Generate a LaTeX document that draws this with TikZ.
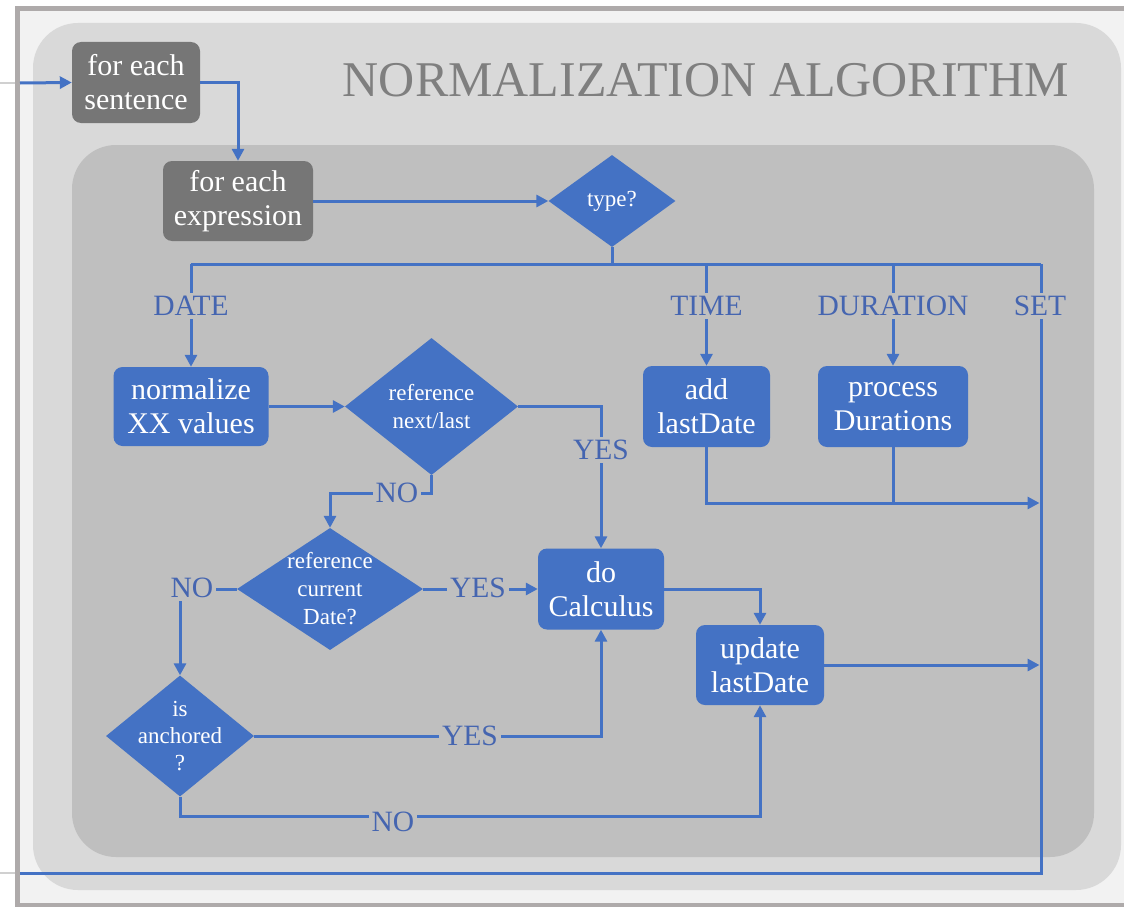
\documentclass[tikz,border=0pt]{standalone}
\usepackage{fontspec}
\setmainfont{Liberation Serif}
\usetikzlibrary{shapes.geometric,arrows.meta}

\definecolor{flowblue}{HTML}{4472C4}
\definecolor{lblblue}{HTML}{4565B0}
\definecolor{boxgray}{HTML}{767676}
\definecolor{framegray}{HTML}{AEAAAA}
\definecolor{pagebg}{HTML}{F2F2F2}
\definecolor{outerbg}{HTML}{D9D9D9}
\definecolor{innerbg}{HTML}{BFBFBF}
\definecolor{titlegray}{HTML}{7F7F7F}
\definecolor{stubgray}{HTML}{D0D0D0}

\newcommand\boxfont{\fontsize{30}{34}\selectfont}
\newcommand\diafont{\fontsize{23}{28}\selectfont}
\newcommand\lblfont{\fontsize{29.5}{32}\selectfont}

\begin{document}
\begin{tikzpicture}[x=1pt,y=-1pt,
  flow/.style={draw=flowblue, line width=3pt},
  arr/.style={flow, -{Triangle[length=12pt,width=12pt]}},
  loopbox/.style={rectangle, rounded corners=9pt, fill=boxgray, text=white,
    font=\boxfont, align=center, inner sep=0pt},
  stepbox/.style={rectangle, rounded corners=9pt, fill=flowblue, text=white,
    font=\boxfont, align=center, inner sep=0pt},
  decision/.style={diamond, fill=flowblue, inner sep=0pt},
  dtext/.style={text=white, font=\diafont, align=center, inner sep=0pt},
  lbl/.style={fill=innerbg, text=lblblue, font=\lblfont, inner sep=3pt},
]
\useasboundingbox (0,0) rectangle (1124,907);

% page and frame
\fill[white] (0,0) rectangle (1124,907);
\filldraw[fill=pagebg, draw=framegray, line width=5pt] (17.5,9) rectangle (1140,905);
\fill[outerbg, rounded corners=45pt] (33,23) rectangle (1121,890);
\fill[innerbg, rounded corners=44pt] (72,145) rectangle (1094,857);

% faint stubs left of the frame
\coordinate (stubA) at (0,83);  \coordinate (stubB) at (15,83);
\coordinate (stubC) at (0,873); \coordinate (stubD) at (15,873);
\draw[stubgray, line width=1.5pt] (stubA) -- (stubB);
\draw[stubgray, line width=1.5pt] (stubC) -- (stubD);

% title
\node[text=titlegray, font=\fontsize{50}{50}\selectfont] (title) at (706,80)
  {NORMALIZATION ALGORITHM};

% loops
\node[loopbox, minimum width=128pt, minimum height=81pt] (sent) at (136,82.5)
  {for each\\sentence};
\node[loopbox, minimum width=150pt, minimum height=80pt] (expr) at (238,201)
  {for each\\expression};

% decisions
\node[decision, minimum width=127pt, minimum height=92pt,
  label={[dtext]center:type?}] (type) at (612,201) {};
\node[decision, minimum width=173pt, minimum height=137pt,
  label={[dtext]center:{reference\\next/last}}] (nl) at (431.5,406.5) {};
\node[decision, minimum width=186pt, minimum height=122pt,
  label={[dtext]center:{reference\\current\\Date?}}] (rcd) at (330,589) {};
\node[decision, minimum width=148pt, minimum height=121pt,
  label={[dtext, font=\fontsize{23}{27}\selectfont]center:{is\\anchored\\?}}] (anch) at (180,736) {};

% processing steps
\node[stepbox, minimum width=155pt, minimum height=79pt] (norm) at (191,406.5)
  {normalize\\XX values};
\node[stepbox, minimum width=127pt, minimum height=81pt] (add) at (706.5,406.5)
  {add\\lastDate};
\node[stepbox, minimum width=150pt, minimum height=81pt] (dur) at (893,406.5)
  {process\\Durations};
\node[stepbox, minimum width=126pt, minimum height=81pt] (calc) at (601,589)
  {do\\Calculus};
\node[stepbox, minimum width=128pt, minimum height=80pt] (upd) at (760,665)
  {update\\lastDate};

% routing points
\coordinate (srcIn) at (20,83);
\coordinate (busL) at (191,264);
\coordinate (busT) at (706.5,264);
\coordinate (busD) at (893,264);
\coordinate (busR) at (1041,264);
\coordinate (loopEnd) at (20,873);
\coordinate (yNO) at (0,493);
\coordinate (yMerge) at (0,503);
\coordinate (yBot) at (0,816);

% connectors
\draw[arr] (srcIn) -- (sent.west);
\draw[arr] (sent.east) -| (expr.north);
\draw[arr] (expr.east) -- (type.west);
\draw[flow] (type.south) -- (type.south |- busL);
\draw[flow] (busL) -- (busR);
\draw[arr] (busL) -- (norm.north);
\draw[arr] (busT) -- (add.north);
\draw[arr] (busD) -- (dur.north);
\draw[flow] (busR) -- (busR |- loopEnd) -- (loopEnd);

\draw[arr] (norm.east) -- (nl.west);
\draw[arr] (nl.east) -| (calc.north);
\draw[arr] (nl.south) -- (nl.south |- yNO) -| (rcd.north);
\draw[arr] (rcd.east) -- (calc.west);
\draw[arr] (rcd.west) -| (anch.north);
\draw[arr] (anch.east) -| (calc.south);
\draw[arr] (anch.south) -- (anch.south |- yBot) -| (upd.south);
\draw[arr] (calc.east) -| (upd.north);
\draw[arr, shorten >=1.5pt] (upd.east) -- (upd.east -| busR);
\draw[arr, shorten >=1.5pt] (add.south) |- (yMerge -| busR);
\draw[flow] (dur.south) -- (dur.south |- yMerge);

% branch labels
\node[lbl] (lDate) at (191,306) {DATE};
\node[lbl] (lTime) at (706.5,306) {TIME};
\node[lbl] (lDur) at (893,306) {DURATION};
\node[lbl] (lSet) at (1040,306) {SET};
\node[lbl] (lYes1) at (601,450) {YES};
\node[lbl] (lNo1) at (397,493) {NO};
\node[lbl] (lYes2) at (478,588) {YES};
\node[lbl] (lNo2) at (192,588) {NO};
\node[lbl] (lYes3) at (470,736) {YES};
\node[lbl] (lNo3) at (393,822) {NO};
\end{tikzpicture}
\end{document}
